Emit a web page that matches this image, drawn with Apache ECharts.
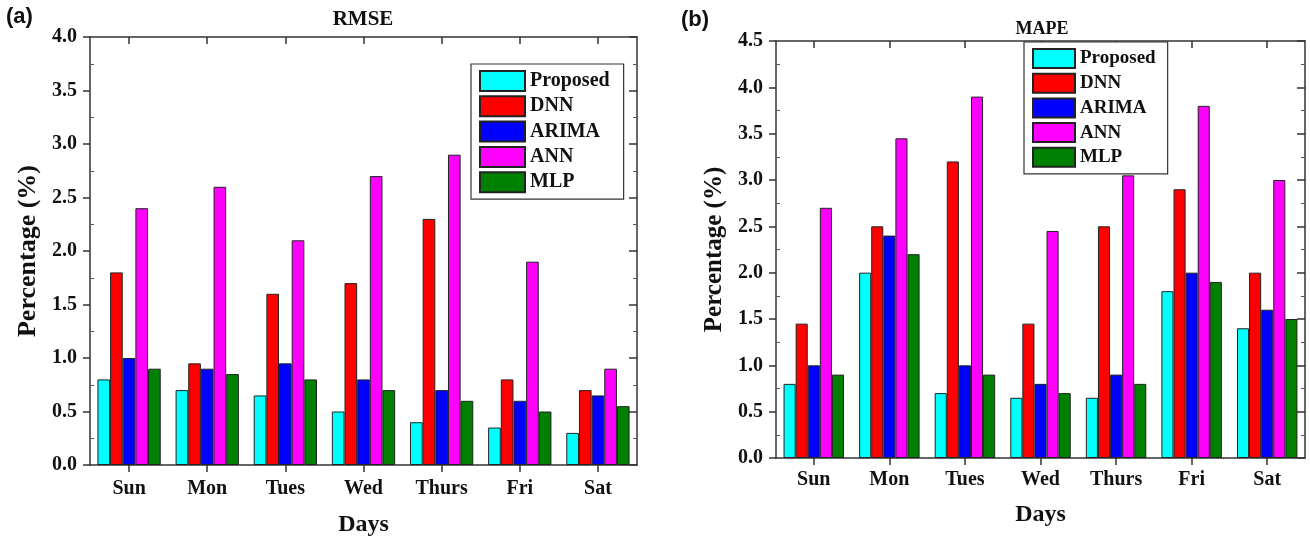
<!DOCTYPE html>
<html>
<head>
<meta charset="utf-8">
<script src="https://cdn.jsdelivr.net/npm/echarts@6/dist/echarts.min.js"></script>
<style>
html,body{margin:0;padding:0;background:#fff;}
#chart{width:1310px;height:542px;}
</style>
</head>
<body>
<div id="chart"></div>
<script>
var days = ['Sun', 'Mon', 'Tues', 'Wed', 'Thurs', 'Fri', 'Sat'];
var seriesNames = ['Proposed', 'DNN', 'ARIMA', 'ANN', 'MLP'];
var seriesColors = ['#00FFFF', '#FF0000', '#0000FF', '#FF00FF', '#008000'];

// (a) RMSE
var rmseProposed = [0.80, 0.70, 0.65, 0.50, 0.40, 0.35, 0.30];
var rmseDNN      = [1.80, 0.95, 1.60, 1.70, 2.30, 0.80, 0.70];
var rmseARIMA    = [1.00, 0.90, 0.95, 0.80, 0.70, 0.60, 0.65];
var rmseANN      = [2.40, 2.60, 2.10, 2.70, 2.90, 1.90, 0.90];
var rmseMLP      = [0.90, 0.85, 0.80, 0.70, 0.60, 0.50, 0.55];

// (b) MAPE
var mapeProposed = [0.80, 2.00, 0.70, 0.65, 0.65, 1.80, 1.40];
var mapeDNN      = [1.45, 2.50, 3.20, 1.45, 2.50, 2.90, 2.00];
var mapeARIMA    = [1.00, 2.40, 1.00, 0.80, 0.90, 2.00, 1.60];
var mapeANN      = [2.70, 3.45, 3.90, 2.45, 3.05, 3.80, 3.00];
var mapeMLP      = [0.90, 2.20, 0.90, 0.70, 0.80, 1.90, 1.50];

var rmseData = [rmseProposed, rmseDNN, rmseARIMA, rmseANN, rmseMLP];
var mapeData = [mapeProposed, mapeDNN, mapeARIMA, mapeANN, mapeMLP];

var SERIF = '"Liberation Serif", "Times New Roman", serif';
var AXC = '#333';

var chart = echarts.init(document.getElementById('chart'), null, {renderer: 'canvas'});

function bottomX(gridIndex, margin, nameGap) {
  return {
    type: 'category', gridIndex: gridIndex, data: days, position: 'bottom',
    axisLine: {show: true, onZero: false, lineStyle: {color: AXC, width: 1.5}},
    axisTick: {show: true, alignWithLabel: true, length: 7, lineStyle: {color: AXC, width: 1.5}},
    axisLabel: {fontFamily: SERIF, fontWeight: 'bold', fontSize: 20, color: '#111', margin: margin},
    name: 'Days', nameLocation: 'middle', nameGap: nameGap,
    nameTextStyle: {fontFamily: SERIF, fontWeight: 'bold', fontSize: 24, color: '#111'}
  };
}
function topX(gridIndex) {
  return {
    type: 'category', gridIndex: gridIndex, data: days, position: 'top',
    axisLine: {show: true, onZero: false, lineStyle: {color: AXC, width: 1.5}},
    axisTick: {show: true, inside: true, alignWithLabel: true, length: 7, lineStyle: {color: AXC, width: 1.5}},
    axisLabel: {show: false}
  };
}
function leftY(gridIndex, max, nameGap, nameSize) {
  return {
    type: 'value', gridIndex: gridIndex, min: 0, max: max, interval: 0.5, position: 'left',
    splitLine: {show: false},
    axisLine: {show: true, lineStyle: {color: AXC, width: 1.5}},
    axisTick: {show: true, length: 7, lineStyle: {color: AXC, width: 1.5}},
    axisLabel: {fontFamily: SERIF, fontWeight: 'bold', fontSize: 20, color: '#111', margin: 13,
      formatter: function (v) { return v.toFixed(1); }},
    name: 'Percentage (%)', nameLocation: 'middle', nameGap: nameGap, nameRotate: 90,
    nameTextStyle: {fontFamily: SERIF, fontWeight: 'bold', fontSize: nameSize, color: '#111'}
  };
}
function leftMinorY(gridIndex, max) {
  return {
    type: 'value', gridIndex: gridIndex, min: 0, max: max, interval: 0.5, position: 'left',
    splitLine: {show: false},
    axisLine: {show: false},
    axisTick: {show: true, inside: true, length: 1, lineStyle: {color: 'rgba(0,0,0,0)'}},
    minorTick: {show: true, splitNumber: 2, length: 4, lineStyle: {color: '#555', width: 1}},
    axisLabel: {show: false}
  };
}
function rightY(gridIndex, max) {
  return {
    type: 'value', gridIndex: gridIndex, min: 0, max: max, interval: 0.5, position: 'right',
    splitLine: {show: false},
    axisLine: {show: true, lineStyle: {color: AXC, width: 1.5}},
    axisTick: {show: true, inside: true, length: 8, lineStyle: {color: AXC, width: 1.5}},
    minorTick: {show: true, splitNumber: 2, length: 4, lineStyle: {color: '#555', width: 1}},
    axisLabel: {show: false}
  };
}

var series = [];
for (var i = 0; i < seriesNames.length; i++) {
  series.push({
    type: 'bar', name: seriesNames[i], xAxisIndex: 0, yAxisIndex: 0,
    data: rmseData[i], barGap: '0%', barCategoryGap: '19%',
    itemStyle: {color: seriesColors[i], borderColor: '#222', borderWidth: 1}
  });
}
for (var j = 0; j < seriesNames.length; j++) {
  series.push({
    type: 'bar', name: seriesNames[j], xAxisIndex: 2, yAxisIndex: 3,
    data: mapeData[j], barGap: '0%', barCategoryGap: '20%',
    itemStyle: {color: seriesColors[j], borderColor: '#222', borderWidth: 1}
  });
}

var legendBase = {
  orient: 'vertical', icon: 'rect', selectedMode: false,
  backgroundColor: '#fff', borderColor: '#333', borderWidth: 1.2,
  data: seriesNames
};

var option = {
  animation: false,
  backgroundColor: '#fff',
  grid: [
    {left: 90, right: 673, top: 37, bottom: 76, containLabel: false},
    {left: 776, right: 5, top: 41, bottom: 84, containLabel: false}
  ],
  xAxis: [bottomX(0, 14, 48), topX(0), bottomX(1, 12, 45), topX(1)],
  yAxis: [leftY(0, 4, 49, 26), rightY(0, 4), leftMinorY(0, 4),
          leftY(1, 4.5, 49, 25), rightY(1, 4.5), leftMinorY(1, 4.5)],
  legend: [
    Object.assign({}, legendBase, {
      left: 471, top: 64, padding: [6, 14, 6, 8], itemGap: 3.3, itemWidth: 45, itemHeight: 20,
      textStyle: {fontFamily: SERIF, fontWeight: 'bold', fontSize: 20, color: '#111'}
    }),
    Object.assign({}, legendBase, {
      left: 1024, top: 42, padding: [6, 12, 6, 8], itemGap: 3.7, itemWidth: 42, itemHeight: 19,
      textStyle: {fontFamily: SERIF, fontWeight: 'bold', fontSize: 19, color: '#111'}
    })
  ],
  graphic: [
    {type: 'text', left: 6, top: 6, style: {text: '(a)', font: 'bold 22px "Liberation Sans", Arial, sans-serif', fill: '#111'}},
    {type: 'text', left: 681, top: 9, style: {text: '(b)', font: 'bold 22px "Liberation Sans", Arial, sans-serif', fill: '#111'}},
    {type: 'text', x: 363, y: 20, style: {text: 'RMSE', font: 'bold 21px "Liberation Serif", "Times New Roman", serif', fill: '#111', align: 'center', verticalAlign: 'middle'}},
    {type: 'text', x: 1042, y: 29, style: {text: 'MAPE', font: 'bold 18px "Liberation Serif", "Times New Roman", serif', fill: '#111', align: 'center', verticalAlign: 'middle'}}
  ],
  series: series
};
chart.setOption(option);
</script>
</body>
</html>
